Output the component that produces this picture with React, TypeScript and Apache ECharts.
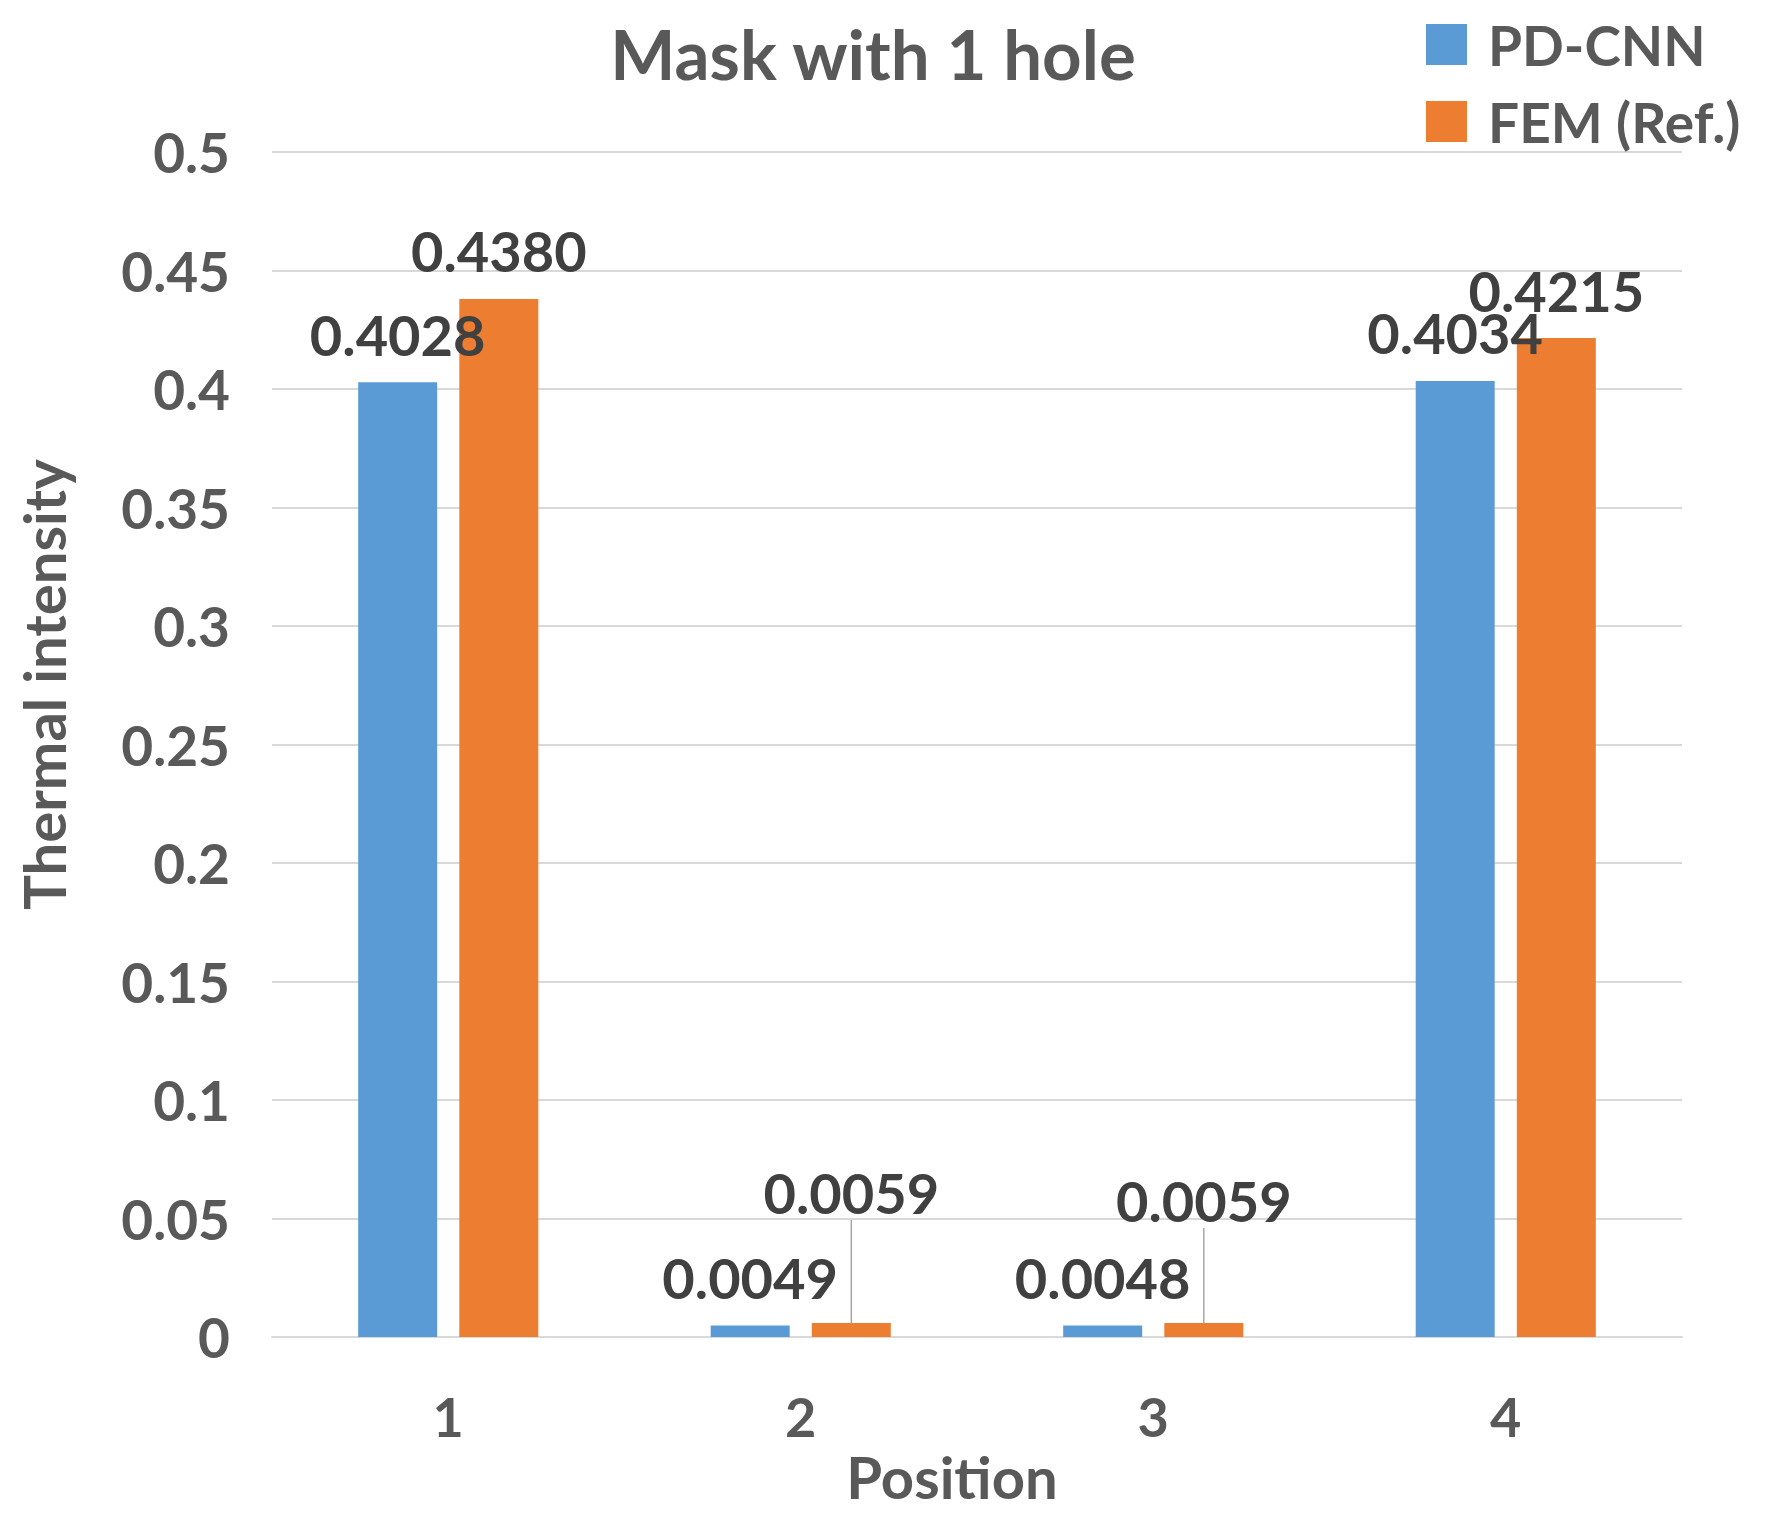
import React, { useEffect, useRef } from "react";
import * as echarts from "echarts";

const categories = ["1", "2", "3", "4"];
const pdCnn = [0.4028, 0.0049, 0.0048, 0.4034];
const fem = [0.438, 0.0059, 0.0059, 0.4215];
const seriesNames = ["PD-CNN", "FEM (Ref.)"];
const yTicks = { min: 0, max: 0.5, interval: 0.05 };
// indices of FEM labels pulled up with a leader line, and their shift
const liftedFem: Record<number, number> = { 1: -83, 2: -75 };

const FONT = "Lato";

export default function App() {
  const ref = useRef<HTMLDivElement>(null);
  useEffect(() => {
    document.body.style.margin = "0";
    if (!ref.current) return;
    const chart = echarts.init(ref.current, undefined, { renderer: "svg" });
    const labelStyle = {
      show: true,
      position: "top" as const,
      distance: 20,
      fontFamily: FONT,
      fontWeight: "bold" as const,
      fontSize: 56,
      color: "#404040",
      formatter: (p: any) => Number(p.value).toFixed(4),
    };
    chart.setOption({
      animation: false,
      backgroundColor: "#ffffff",
      textStyle: { fontFamily: FONT },
      title: {
        text: "Mask with 1 hole",
        left: 873,
        top: 19,
        padding: 0,
        textAlign: "center",
        textStyle: { fontFamily: FONT, fontWeight: "bold", fontSize: 69, color: "#595959" },
      },
      legend: {
        orient: "vertical",
        left: 1426,
        top: 17,
        padding: 0,
        itemWidth: 41,
        itemHeight: 41,
        itemGap: 22,
        icon: "rect",
        data: seriesNames,
        textStyle: {
          fontFamily: FONT,
          fontWeight: "bold",
          fontSize: 55,
          lineHeight: 41,
          color: "#595959",
          padding: [0, 0, 0, 16],
        },
      },
      grid: { left: 272, right: 90, top: 152, bottom: 181, containLabel: false },
      xAxis: {
        type: "category",
        data: categories,
        name: "Position",
        nameLocation: "middle",
        nameGap: 108,
        nameTextStyle: {
          fontFamily: FONT,
          fontWeight: "bold",
          fontSize: 58,
          color: "#595959",
          padding: [0, 50, 0, 0],
        },
        axisTick: { show: false },
        axisLine: { lineStyle: { color: "#d9d9d9", width: 2 } },
        axisLabel: {
          margin: 52,
          fontFamily: FONT,
          fontWeight: "bold",
          fontSize: 54,
          color: "#595959",
        },
      },
      yAxis: {
        type: "value",
        min: yTicks.min,
        max: yTicks.max,
        interval: yTicks.interval,
        name: "Thermal intensity",
        nameLocation: "middle",
        nameGap: 200,
        nameTextStyle: {
          fontFamily: FONT,
          fontWeight: "bold",
          fontSize: 58,
          color: "#595959",
          padding: [0, 0, 0, 120],
        },
        axisLine: { show: false },
        axisTick: { show: false },
        splitLine: { lineStyle: { color: "#d9d9d9", width: 2 } },
        axisLabel: {
          margin: 42,
          fontFamily: FONT,
          fontWeight: "bold",
          fontSize: 55,
          color: "#595959",
          formatter: (v: number) => String(Number(v.toFixed(2))),
        },
      },
      series: [
        {
          name: seriesNames[0],
          type: "bar",
          data: pdCnn,
          barWidth: 79,
          barGap: "28%",
          itemStyle: { color: "#5B9BD5" },
          label: labelStyle,
        },
        {
          name: seriesNames[1],
          type: "bar",
          data: fem.map((v, i) =>
            liftedFem[i] !== undefined
              ? { value: v, labelLine: { show: true, lineStyle: { color: "#a6a6a6", width: 1.5 } } }
              : v
          ),
          barWidth: 79,
          barGap: "28%",
          itemStyle: { color: "#ED7D31" },
          label: labelStyle,
          labelLine: { show: false },
          labelLayout: (p: any) =>
            liftedFem[p.dataIndex] !== undefined ? { dy: liftedFem[p.dataIndex] } : {},
        },
      ],
    });
    return () => chart.dispose();
  }, []);
  return <div ref={ref} style={{ width: 1772, height: 1518 }} />;
}
